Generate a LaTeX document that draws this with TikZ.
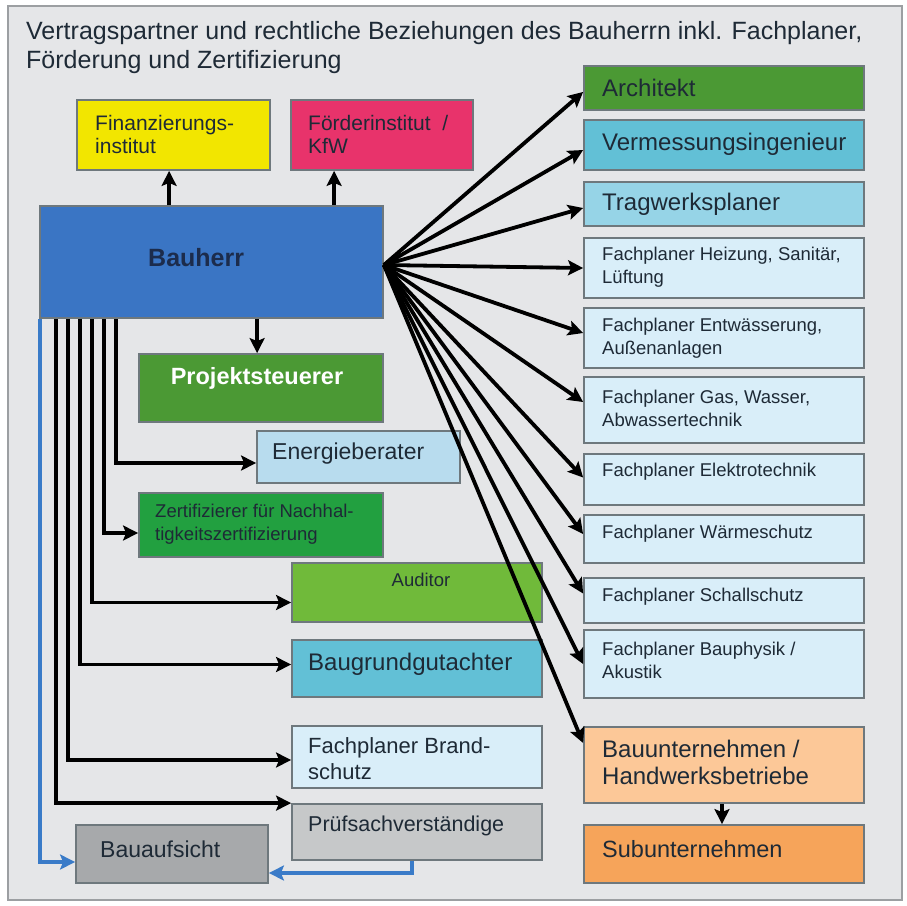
\documentclass[tikz,border=0pt]{standalone}
\usepackage{fontspec}
\setmainfont{Liberation Sans}
\usetikzlibrary{arrows.meta,fit,calc}
\definecolor{frameBg}{HTML}{E5E6E8}
\definecolor{frameLn}{HTML}{9C9FA2}
\definecolor{boxLn}{HTML}{6E787D}
\definecolor{txt}{HTML}{1E2A36}
\definecolor{cYellow}{HTML}{F2E600}
\definecolor{cPink}{HTML}{E8336B}
\definecolor{cBlue}{HTML}{3A75C4}
\definecolor{cBauherrTxt}{HTML}{1C2C4C}
\definecolor{cGreenA}{HTML}{4B9934}
\definecolor{cGreenB}{HTML}{22A040}
\definecolor{cGreenC}{HTML}{70BA3A}
\definecolor{cLightBlue}{HTML}{B8DCEE}
\definecolor{cTeal}{HTML}{62C0D6}
\definecolor{cTealL}{HTML}{96D4E7}
\definecolor{cPale}{HTML}{D9EEF9}
\definecolor{cGrayL}{HTML}{C6C8C9}
\definecolor{cGrayD}{HTML}{A7A9AB}
\definecolor{cOrangeL}{HTML}{FCC898}
\definecolor{cOrange}{HTML}{F6A45A}
\definecolor{arrBlue}{HTML}{3A7BC8}
\tikzset{
  box/.style={draw=boxLn, line width=1.8pt, rectangle, inner sep=0pt},
  lbl/.style={anchor=west, inner sep=0pt, text=txt, align=left, font=\fontsize{24}{27}\selectfont},
  sml/.style={anchor=west, inner sep=0pt, text=txt, align=left, font=\fontsize{18.5}{23}\selectfont},
  arr/.style={draw=black, line width=3.8pt, -{Stealth[length=15pt,width=15pt,inset=3pt]}},
  barr/.style={draw=arrBlue, line width=3.8pt, -{Stealth[length=15pt,width=15pt,inset=3pt]}},
}
\begin{document}
\begin{tikzpicture}[x=1pt,y=-1pt]
\useasboundingbox (0,0) rectangle (907,905);
\fill[white] (0,0) rectangle (907,905);
\draw[fill=frameBg, draw=frameLn, line width=1.2pt] (8,6) rectangle (902,900);
% title
\node[anchor=west, inner sep=0pt, text=txt, font=\fontsize{25}{28}\selectfont] (t1) at (26,33) {Vertragspartner und rechtliche Beziehungen des Bauherrn inkl. Fachplaner,};
\node[anchor=west, inner sep=0pt, text=txt, font=\fontsize{25}{28}\selectfont] (t2) at (26,62) {Förderung und Zertifizierung};
% left boxes
\node[box, fill=cYellow, fit={(77,100)(270,170)}] (fin) {};
\node[sml, font=\fontsize{21}{23}\selectfont] at (95,134) {Finanzierungs-\\institut};
\node[box, fill=cPink, fit={(291,100)(473,170)}] (foe) {};
\node[sml, font=\fontsize{21}{23}\selectfont] at (308,134) {Förderinstitut~~/\\KfW};
\node[box, fill=cBlue, fit={(40,206)(383,318)}] (bh) {};
\node[anchor=west, inner sep=0pt, text=cBauherrTxt, font=\fontsize{25}{28}\selectfont\bfseries] at (148,258) {Bauherr};
\node[box, fill=cGreenA, fit={(139,354)(383,422)}] (ps) {};
\node[anchor=center, inner sep=0pt, text=white, font=\fontsize{23.5}{28}\selectfont\bfseries] at (257,378) {Projektsteuerer};
\node[box, fill=cLightBlue, fit={(257,431)(460,483)}] (en) {};
\node[lbl, font=\fontsize{23}{27}\selectfont] at (272,454) {Energieberater};
\node[box, fill=cGreenB, fit={(139,493)(383,557)}] (ze) {};
\node[sml] at (155,524) {Zertifizierer für Nachhal-\\tigkeitszertifizierung};
\node[box, fill=cGreenC, fit={(292,563)(542,622)}] (au) {};
\node[anchor=center, inner sep=0pt, text=txt, font=\fontsize{18.5}{22}\selectfont] at (421,580) {Auditor};
\node[box, fill=cTeal, fit={(292,640)(542,697)}] (bg) {};
\node[lbl] at (308,664) {Baugrundgutachter};
\node[box, fill=cPale, fit={(292,726)(542,788)}] (br) {};
\node[lbl, font=\fontsize{22}{26}\selectfont] at (308,759) {Fachplaner Brand-\\schutz};
\node[box, fill=cGrayL, fit={(292,804)(542,860)}] (pr) {};
\node[lbl, font=\fontsize{21.5}{26}\selectfont] at (308,826) {Prüfsachverständige};
\node[box, fill=cGrayD, fit={(76,825)(268,883)}] (ba) {};
\node[lbl, font=\fontsize{23}{26}\selectfont] at (100,849) {Bauaufsicht};
% right column
\node[box, fill=cGreenA, fit={(584,66)(864,110)}] (ar) {};
\node[lbl] at (602,88) {Architekt};
\node[box, fill=cTeal, fit={(584,120)(864,170)}] (ve) {};
\node[lbl] at (602,144) {Vermessungsingenieur};
\node[box, fill=cTealL, fit={(584,182)(864,226)}] (tr) {};
\node[lbl] at (602,204) {Tragwerksplaner};
\node[box, fill=cPale, fit={(584,238)(864,298)}] (he) {};
\node[sml] at (602,267) {Fachplaner Heizung, Sanitär,\\Lüftung};
\node[box, fill=cPale, fit={(584,308)(864,368)}] (ew) {};
\node[sml] at (602,338) {Fachplaner Entwässerung,\\Außenanlagen};
\node[box, fill=cPale, fit={(584,377)(864,443)}] (ga) {};
\node[sml] at (602,408) {Fachplaner Gas, Wasser,\\Abwassertechnik};
\node[box, fill=cPale, fit={(584,454)(864,505)}] (el) {};
\node[sml] at (602,472) {Fachplaner Elektrotechnik};
\node[box, fill=cPale, fit={(584,515)(864,563)}] (wa) {};
\node[sml] at (602,534) {Fachplaner Wärmeschutz};
\node[box, fill=cPale, fit={(584,578)(864,623)}] (sc) {};
\node[sml] at (602,597) {Fachplaner Schallschutz};
\node[box, fill=cPale, fit={(584,630)(864,698)}] (bp) {};
\node[sml] at (602,660) {Fachplaner Bauphysik /\\Akustik};
\node[box, fill=cOrangeL, fit={(584,727)(864,803)}] (bu) {};
\node[lbl, font=\fontsize{24}{27}\selectfont] at (602,762) {Bauunternehmen /\\Handwerksbetriebe};
\node[box, fill=cOrange, fit={(584,825)(864,883)}] (su) {};
\node[lbl, font=\fontsize{23.5}{27}\selectfont] at (602,849) {Subunternehmen};
% arrows up / down
\draw[arr] ([xshift=130pt]bh.north west) -- ([xshift=130pt]bh.north west |- fin.south);
\draw[arr] ([xshift=295pt]bh.north west) -- ([xshift=295pt]bh.north west |- foe.south);
\draw[arr] ([xshift=218pt]bh.south west) -- ([xshift=218pt]bh.south west |- ps.north);
\draw[arr] ([xshift=-2pt]bu.south) -- ([xshift=-2pt]su.north);
% fan
\coordinate (fan) at ([yshift=-3pt]bh.east);
\draw[arr] (fan) -- ([yshift=-4pt]ar.west);
\draw[arr] (fan) -- ([yshift=-5pt]ve.west);
\draw[arr] (fan) -- ([yshift=-4pt]tr.west);
\draw[arr] (fan) -- (he.west);
\draw[arr] (fan) -- ([yshift=5pt]ew.west);
\draw[arr] (fan) -- ([yshift=8pt]ga.west);
\draw[arr] (fan) -- ([yshift=2pt]el.west);
\draw[arr] (fan) -- ([yshift=5pt]wa.west);
\draw[arr] (fan) -- ([yshift=7pt]sc.west);
\draw[arr] (fan) -- (bp.west);
\draw[arr] (fan) -- ([yshift=22pt]bu.west);
% left elbows
\draw[arr] ([xshift=77pt]bh.south west) |- ([yshift=-6pt]en.west);
\draw[arr] ([xshift=65pt]bh.south west) |- ([yshift=-8pt]ze.west);
\draw[arr] ([xshift=53pt]bh.south west) |- ([yshift=-10pt]au.west);
\draw[arr] ([xshift=41pt]bh.south west) |- ([yshift=4pt]bg.west);
\draw[arr] ([xshift=29pt]bh.south west) |- ([yshift=-3pt]br.west);
\draw[arr] ([xshift=17pt]bh.south west) |- (pr.north west);
% blue arrows
\draw[barr] ([xshift=1pt]bh.south west) |- ([yshift=-8pt]ba.west);
\draw[barr] ([xshift=-5pt]pr.south) |- ([yshift=-19pt]ba.east);
\end{tikzpicture}
\end{document}
